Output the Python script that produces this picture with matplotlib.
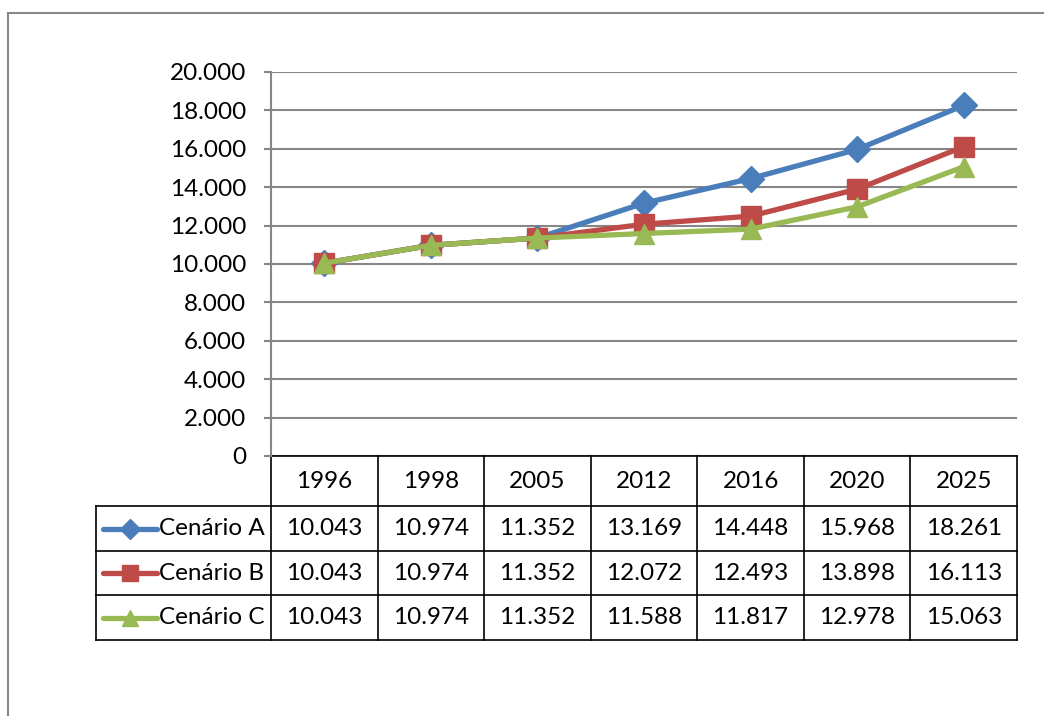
import matplotlib.pyplot as plt
import matplotlib.transforms as mtransforms
from matplotlib.lines import Line2D
from matplotlib.ticker import FuncFormatter

plt.rcParams['font.family'] = ['Lato', 'DejaVu Sans']

# data
anos = ['1996', '1998', '2005', '2012', '2016', '2020', '2025']
cenario_a = [10043, 10974, 11352, 13169, 14448, 15968, 18261]
cenario_b = [10043, 10974, 11352, 12072, 12493, 13898, 16113]
cenario_c = [10043, 10974, 11352, 11588, 11817, 12978, 15063]
nomes = ['Cenário A', 'Cenário B', 'Cenário C']
series = [cenario_a, cenario_b, cenario_c]
cores = ['#4A7EBB', '#BE4B48', '#98B954']
marcadores = ['D', 's', '^']
tam_marc = [13, 14, 14]
fs = 17.5

W, H = 1044, 716
fig = plt.figure(figsize=(W / 100, H / 100), dpi=100)

# outer chart frame (left and top visible)
fig.add_artist(Line2D([8 / W, 8 / W], [0, 1 - 13 / H], color='#888888', lw=1.5))
fig.add_artist(Line2D([8 / W, 1], [1 - 13 / H, 1 - 13 / H], color='#888888', lw=1.5))

ax = fig.add_axes([271 / W, 1 - 456 / H, (1017 - 271) / W, (456 - 72) / H])
x = range(len(anos))
for vals, nome, c, m, s in zip(series, nomes, cores, marcadores, tam_marc):
    ax.plot(x, vals, color=c, lw=3.8, marker=m, markersize=s, label=nome,
            solid_capstyle='round', zorder=3)

ax.set_xlim(-0.5, len(anos) - 0.5)
ax.set_ylim(0, 20000)
ax.set_yticks(range(0, 20001, 2000))
ax.yaxis.set_major_formatter(FuncFormatter(lambda v, p: f'{int(v):,}'.replace(',', '.')))
ax.grid(axis='y', color='#868686', lw=1.5)
ax.set_axisbelow(True)
ax.set_xticks([])
for side in ['top', 'right', 'bottom']:
    ax.spines[side].set_visible(False)
ax.spines['left'].set_color('#868686')
ax.spines['left'].set_linewidth(1.5)
ax.tick_params(axis='y', length=5, width=1.5, color='#868686', labelsize=fs, pad=13)

# data table under the plot: x in data units, y in axes units
tr = mtransforms.blended_transform_factory(ax.transData, ax.transAxes)
ph = 456 - 72
def ay(py):
    return (456 - py) / ph

col_px = (1017 - 271) / len(anos)
def axp(px):
    return -0.5 + (px - 271) / col_px

linhas_y = [456, 506, 551, 595, 640]
x_esq_leg = axp(96)
lk = dict(color='black', lw=1.2, transform=tr, clip_on=False)

# horizontal lines
ax.plot([-0.5, len(anos) - 0.5], [ay(456)] * 2, **lk)
for py in linhas_y[1:]:
    ax.plot([x_esq_leg, len(anos) - 0.5], [ay(py)] * 2, **lk)
# vertical lines
for k in range(len(anos) + 1):
    ax.plot([k - 0.5, k - 0.5], [ay(456), ay(640)], **lk)
ax.plot([x_esq_leg, x_esq_leg], [ay(506), ay(640)], **lk)

# header
for i, a in enumerate(anos):
    ax.text(i, ay((456 + 506) / 2), a, transform=tr, ha='center', va='center',
            fontsize=fs, clip_on=False)

# rows
for r, (vals, nome, c, m, s) in enumerate(zip(series, nomes, cores, marcadores, tam_marc)):
    yc = ay((linhas_y[r + 1] + linhas_y[r + 2]) / 2)
    for i, v in enumerate(vals):
        ax.text(i, yc, f'{v:,}'.replace(',', '.'), transform=tr, ha='center',
                va='center', fontsize=fs, clip_on=False)
    # legend key
    xk0 = axp(103)
    xk1 = axp(157)
    ax.plot([xk0, xk1], [yc, yc], color=c, lw=3.8, solid_capstyle='round',
            transform=tr, clip_on=False)
    ax.plot([(xk0 + xk1) / 2], [yc], color=c, marker=m, markersize=s * 0.8,
            transform=tr, clip_on=False)
    ax.text(axp(159), yc, nome, transform=tr, ha='left', va='center',
            fontsize=fs, clip_on=False)

fig.savefig('out.png', dpi=100)
